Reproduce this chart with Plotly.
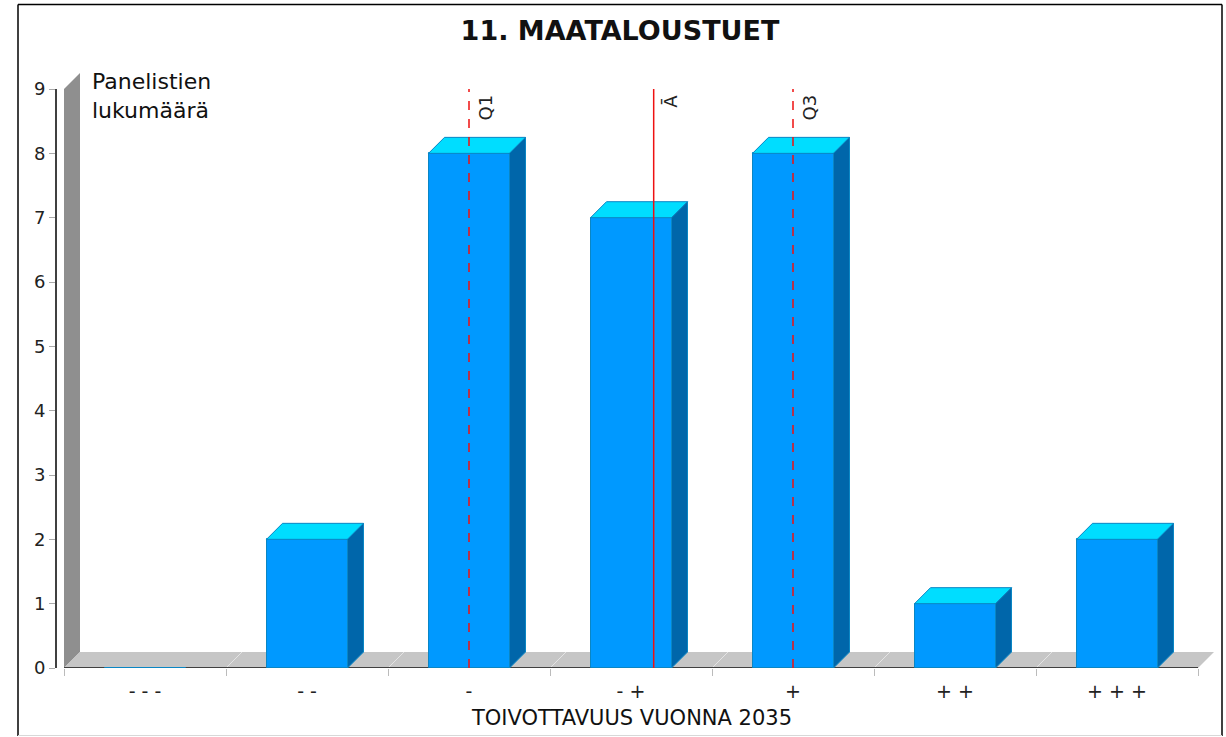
import plotly.graph_objects as go

# Data
categories = ["- - -", "- -", "-", "- +", "+", "+ +", "+ + +"]
counts = [0, 2, 8, 7, 8, 1, 2]
y_ticks = [0, 1, 2, 3, 4, 5, 6, 7, 8, 9]

# Markers on the 1..7 answer scale (Q1, mean, Q3)
marker_labels = ["Q1", "Ā", "Q3"]
marker_values = [3, 4.14, 5]
marker_dash = ["dash", "solid", "dash"]

# Pseudo-3D look
FRONT = "#0099FF"
TOP = "#00DDFF"
SIDE = "#0066AA"
EDGE = "#0A86C4"
BAR_W = 0.5
DX = 16 / 162      # depth offset, x data units
DY = 16 / 64.33    # depth offset, y data units

W, H = 1226, 737
L, R, T, B = 56, 12, 70, 69
pw, ph = W - L - R, H - T - B


def px_x(px):
    return (px - L) / pw


def px_y(py):
    return (H - B - py) / ph


xs = list(range(len(categories)))
n = len(categories)

fig = go.Figure()
fig.add_trace(go.Bar(
    x=xs, y=counts, width=BAR_W,
    marker=dict(color=FRONT, line=dict(color=EDGE, width=1)),
    hoverinfo="x+y", showlegend=False,
))

shapes = []
# back wall
shapes.append(dict(
    type="path", xref="x", yref="y", layer="below", line=dict(width=0),
    fillcolor="#8F8F8F",
    path=f"M -0.5 0 L -0.5 9 L {-0.5 + DX} {9 + DY} L {-0.5 + DX} {DY} Z",
))
# floor
shapes.append(dict(
    type="path", xref="x", yref="y", layer="below", line=dict(width=0),
    fillcolor="#C6C6C6",
    path=f"M -0.5 0 L {n - 0.5} 0 L {n - 0.5 + DX} {DY} L {-0.5 + DX} {DY} Z",
))
# light depth lines on the floor at category boundaries
for b in range(1, n):
    x0 = b - 0.5
    shapes.append(dict(
        type="line", xref="x", yref="y", layer="below",
        x0=x0, y0=0, x1=x0 + DX, y1=DY, line=dict(color="#E4E4E4", width=1),
    ))
# floor front edge
shapes.append(dict(
    type="line", xref="x", yref="y", layer="below",
    x0=-0.5, y0=0, x1=n - 0.5, y1=0, line=dict(color="#404040", width=2),
))

# bar tops and sides
for x, v in zip(xs, counts):
    if v <= 0:
        continue
    l, r = x - BAR_W / 2, x + BAR_W / 2
    shapes.append(dict(
        type="path", xref="x", yref="y", fillcolor=TOP, line=dict(color=EDGE, width=1),
        path=f"M {l} {v} L {l + DX} {v + DY} L {r + DX} {v + DY} L {r} {v} Z",
    ))
    shapes.append(dict(
        type="path", xref="x", yref="y", fillcolor=SIDE, line=dict(color=EDGE, width=1),
        path=f"M {r} 0 L {r + DX} {DY} L {r + DX} {v + DY} L {r} {v} Z",
    ))

# y axis line
shapes.append(dict(
    type="line", xref="paper", yref="y", x0=0, x1=0, y0=0, y1=9,
    line=dict(color="#000000", width=1.5),
))

annotations = []
# marker lines
for lab, val, dash in zip(marker_labels, marker_values, marker_dash):
    mx = val - 1
    shapes.append(dict(
        type="line", xref="x", yref="y", x0=mx, x1=mx, y0=0, y1=9,
        line=dict(color="#EE1111", width=1.5, dash=dash),
    ))
    annotations.append(dict(
        x=mx, y=9, xref="x", yref="y", text=lab, showarrow=False,
        textangle=-90, xanchor="left", yanchor="top", xshift=4, yshift=-4,
        font=dict(family="DejaVu Sans", size=18, color="#222222"),
    ))

# outer border
shapes.append(dict(type="line", xref="paper", yref="paper",
                   x0=px_x(18), x1=px_x(1222), y0=px_y(4.5), y1=px_y(4.5),
                   line=dict(color="#000000", width=1.5)))
shapes.append(dict(type="line", xref="paper", yref="paper",
                   x0=px_x(18), x1=px_x(18), y0=px_y(4.5), y1=px_y(736),
                   line=dict(color="#000000", width=1.5)))
shapes.append(dict(type="line", xref="paper", yref="paper",
                   x0=px_x(1222), x1=px_x(1222), y0=px_y(4.5), y1=px_y(736),
                   line=dict(color="#000000", width=1.5)))
shapes.append(dict(type="line", xref="paper", yref="paper",
                   x0=px_x(18), x1=px_x(1222), y0=px_y(735.5), y1=px_y(735.5),
                   line=dict(color="#D8D8D8", width=1)))

# y axis caption
annotations.append(dict(
    x=px_x(90), y=px_y(67), xref="paper", yref="paper", showarrow=False,
    text="Panelistien<br>lukumäärä", align="left", xanchor="left", yanchor="top",
    font=dict(family="DejaVu Sans", size=22, color="#111111"),
))
# x axis title
annotations.append(dict(
    x=(n - 1) / 2, y=px_y(718), xref="x", yref="paper", showarrow=False,
    text="TOIVOTTAVUUS VUONNA 2035", xanchor="center", yanchor="middle",
    font=dict(family="DejaVu Sans", size=21, color="#111111"),
))

fig.update_layout(
    width=W, height=H,
    margin=dict(l=L, r=R, t=T, b=B),
    paper_bgcolor="white", plot_bgcolor="white",
    title=dict(
        text="<b>11. MAATALOUSTUET</b>", x=620 / W, xref="container",
        xanchor="center", y=1 - 31 / H, yref="container", yanchor="middle",
        font=dict(family="DejaVu Sans", size=27, color="#111111"),
    ),
    xaxis=dict(
        range=[-0.5 - 8 / 162, -0.5 - 8 / 162 + pw / 162],
        tickvals=xs, ticktext=categories, ticks="",
        showgrid=False, zeroline=False, showline=False,
        ticklabelstandoff=10,
        tickfont=dict(family="DejaVu Sans", size=19, color="#222222"),
        minor=dict(tickvals=[b - 0.5 for b in range(n + 1)], ticks="outside",
                   ticklen=7, tickcolor="#BBBBBB", tickwidth=1, showgrid=False),
    ),
    yaxis=dict(
        range=[0, ph / 64.33],
        tickvals=y_ticks, ticks="outside", ticklen=6, tickcolor="#AAAAAA",
        showgrid=False, zeroline=False, showline=False,
        tickfont=dict(family="DejaVu Sans", size=18, color="#222222"),
    ),
    shapes=shapes,
    annotations=annotations,
    bargap=0,
)

fig.write_html(
    "out.html",
    config={"displayModeBar": False},
    post_script="document.body.style.margin='0';document.body.style.overflow='hidden';",
)
